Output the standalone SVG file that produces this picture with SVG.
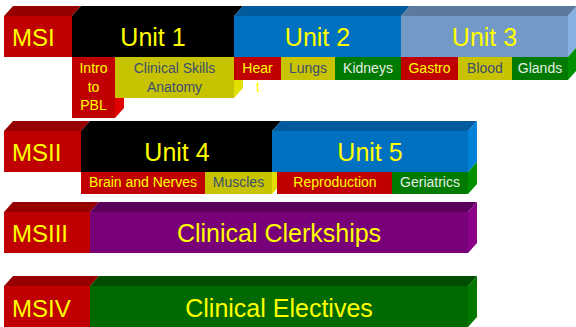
<svg xmlns="http://www.w3.org/2000/svg" width="576" height="327" viewBox="0 0 576 327">
<style>
text{font-family:"Liberation Sans",Arial,sans-serif;text-anchor:middle}
.big{font-size:25px;fill:#ffff00}
.ms{font-size:24px;fill:#ffff00;text-anchor:start}
.sm{font-size:14px}
.y{fill:#ffff00}.s{fill:#3c4f6e}.w{fill:#e6eee6}
.red{fill:#c00000}.redT{fill:#960000}.redS{fill:#e00000}
.blk{fill:#000000}
.blu{fill:#0070c0}.bluT{fill:#005a9c}.bluS{fill:#0082da}
.lb{fill:#7399c6}.lbT{fill:#5b7a9e}.lbS{fill:#85b0e0}
.ol{fill:#c8c300}.olS{fill:#e2e000}
.gr{fill:#007a00}.grS{fill:#009000}
.pu{fill:#780078}.puT{fill:#5a005a}.puS{fill:#8a0088}
.dg{fill:#006a00}.dgT{fill:#004c00}.dgS{fill:#007800}
</style>
<rect width="576" height="327" fill="#ffffff"/>

<!-- Row 1 -->
<g id="msi">
<polygon class="redT" points="4,16 13,6 81,6 72,16"/>
<rect class="red" x="4" y="16" width="68" height="41"/>
<text class="ms" x="12" y="46">MSI</text>
</g>
<g id="unit1">
<polygon class="blk" points="72,16 81,6 243,6 234,16"/>
<rect class="blk" x="72" y="16" width="162" height="41"/>
<text class="big" x="153" y="46">Unit 1</text>
</g>
<g id="unit2">
<polygon class="bluT" points="234,16 243,6 410,6 401,16"/>
<rect class="blu" x="234" y="16" width="167" height="41"/>
<text class="big" x="317.5" y="46">Unit 2</text>
</g>
<g id="unit3">
<polygon class="lbT" points="401,16 410,6 577,6 568,16"/>
<polygon class="lbS" points="568,16 577,6 577,47 568,57"/>
<rect class="lb" x="401" y="16" width="167" height="41"/>
<text class="big" x="484.5" y="46">Unit 3</text>
</g>

<g id="intro-pbl">
<polygon class="redS" points="115,57 124,57 124,108 115,118"/>
<rect class="red" x="72" y="57" width="43" height="61"/>
<text class="sm y" x="93.5" y="73">Intro</text>
<text class="sm y" x="93.5" y="92">to</text>
<text class="sm y" x="93.5" y="110">PBL</text>
</g>
<g id="clinical-skills">
<polygon class="olS" points="234,57 243,57 243,88 234,98"/>
<rect class="ol" x="115" y="57" width="119" height="41"/>
<text class="sm s" x="174.5" y="73">Clinical Skills</text>
<text class="sm s" x="174.5" y="92">Anatomy</text>
</g>
<g id="heart">
<rect class="red" x="234" y="57" width="47" height="23"/>
<text class="sm y" x="257.5" y="73">Hear</text>
<text class="sm y" x="258" y="91.5">t</text>
</g>
<g id="lungs">
<rect class="ol" x="281" y="57" width="54" height="23"/>
<text class="sm s" x="308" y="73">Lungs</text>
</g>
<g id="kidneys">
<rect class="gr" x="335" y="57" width="66" height="23"/>
<text class="sm w" x="368" y="73">Kidneys</text>
</g>
<g id="gastro">
<rect class="red" x="401" y="57" width="57" height="23"/>
<text class="sm y" x="429.5" y="73">Gastro</text>
</g>
<g id="blood">
<rect class="ol" x="458" y="57" width="54" height="23"/>
<text class="sm s" x="485" y="73">Blood</text>
</g>
<g id="glands">
<polygon class="grS" points="568,57 577,47 577,70 568,80"/>
<rect class="gr" x="512" y="57" width="56" height="23"/>
<text class="sm w" x="540" y="73">Glands</text>
</g>

<!-- Row 2 -->
<g id="msii">
<polygon class="redT" points="4,131 13,121 90,121 81,131"/>
<rect class="red" x="4" y="131" width="77" height="41"/>
<text class="ms" x="12" y="161">MSII</text>
</g>
<g id="unit4">
<polygon class="blk" points="81,131 90,121 281,121 272,131"/>
<rect class="blk" x="81" y="131" width="191" height="41"/>
<text class="big" x="177" y="161">Unit 4</text>
</g>
<g id="unit5">
<polygon class="bluT" points="272,131 281,121 477,121 468,131"/>
<polygon class="bluS" points="468,131 477,121 477,162 468,172"/>
<rect class="blu" x="272" y="131" width="196" height="41"/>
<text class="big" x="370" y="161">Unit 5</text>
</g>
<g id="brain-nerves">
<rect class="red" x="81" y="172" width="124" height="22"/>
<text class="sm y" x="143" y="187">Brain and Nerves</text>
</g>
<g id="muscles">
<polygon class="olS" points="272,172 281,172 281,184 272,194"/>
<rect class="ol" x="205" y="172" width="67" height="22"/>
<text class="sm s" x="238.5" y="187">Muscles</text>
</g>
<g id="reproduction">
<rect class="red" x="277" y="172" width="115" height="22"/>
<text class="sm y" x="335" y="187">Reproduction</text>
</g>
<g id="geriatrics">
<polygon class="grS" points="468,172 477,162 477,184 468,194"/>
<rect class="gr" x="392" y="172" width="76" height="22"/>
<text class="sm w" x="430" y="187">Geriatrics</text>
</g>

<!-- Row 3 -->
<g id="msiii">
<polygon class="redT" points="4,212 13,202 99,202 90,212"/>
<rect class="red" x="4" y="212" width="86" height="41"/>
<text class="ms" x="12" y="242">MSIII</text>
</g>
<g id="clerkships">
<polygon class="puT" points="90,212 99,202 477,202 468,212"/>
<polygon class="puS" points="468,212 477,202 477,243 468,253"/>
<rect class="pu" x="90" y="212" width="378" height="41"/>
<text class="big" x="279" y="242">Clinical Clerkships</text>
</g>

<!-- Row 4 -->
<g id="msiv">
<polygon class="redT" points="4,286 13,276 99,276 90,286"/>
<rect class="red" x="4" y="286" width="86" height="41"/>
<text class="ms" x="12" y="317">MSIV</text>
</g>
<g id="electives">
<polygon class="dgT" points="90,286 99,276 477,276 468,286"/>
<polygon class="dgS" points="468,286 477,276 477,317 468,327"/>
<rect class="dg" x="90" y="286" width="378" height="41"/>
<text class="big" x="279" y="317">Clinical Electives</text>
</g>

<g id="connectors"/>
</svg>
